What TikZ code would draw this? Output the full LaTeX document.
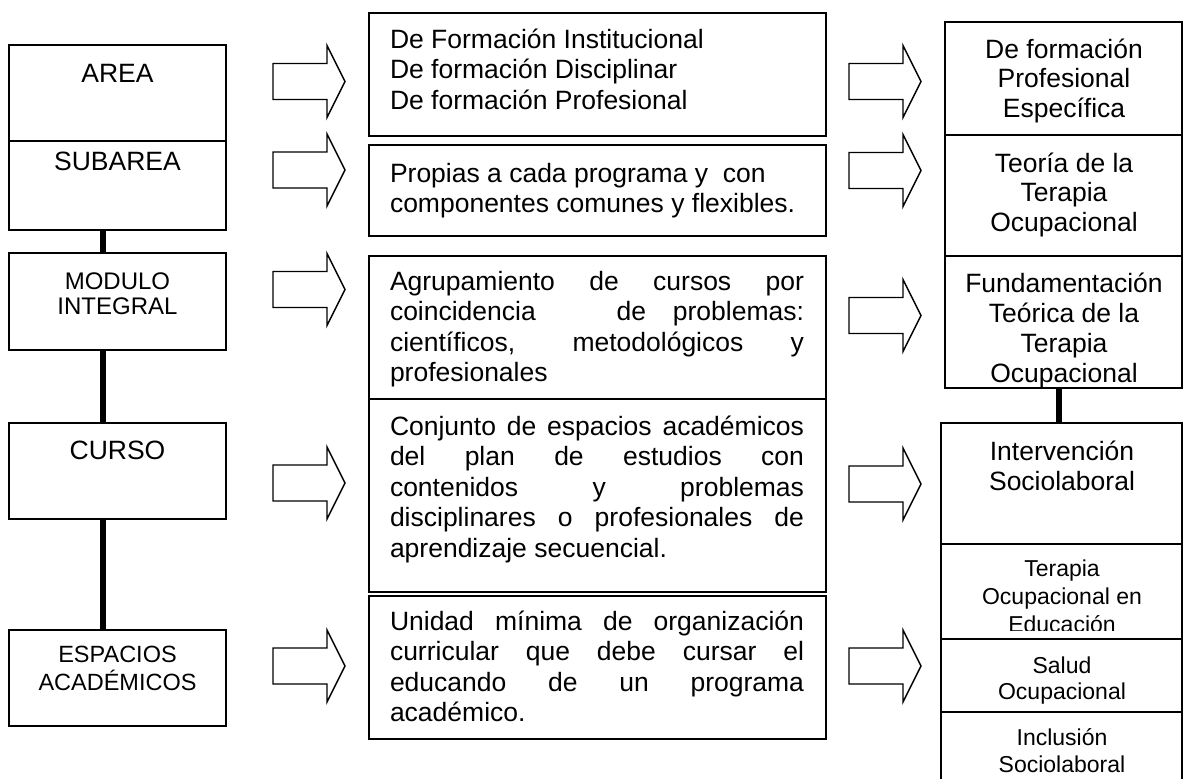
\documentclass[tikz,border=0pt]{standalone}
\usepackage{fontspec}
\setmainfont{Liberation Sans}
\newcommand\st{\rule{0pt}{0.94em}}
\newcommand\jl[1]{\makebox[414pt][s]{#1}}
\newcommand\bx[5]{\node[box, minimum width={#4-#2}, minimum height={#5-#3}] (#1) at (#2,#3) {};}
\begin{document}
\begin{tikzpicture}[x=1pt,y=-1pt,
  box/.style={draw=black, line width=1.7pt, inner sep=0pt, outer sep=0pt, anchor=north west},
  conn/.style={line width=6pt, draw=black},
  arrowline/.style={draw=black, line width=1.4pt, fill=white, line join=miter},
  bigtxt/.style={inner sep=0pt, outer sep=0pt, align=center, anchor=north, font=\fontsize{26.5}{30.5}\selectfont},
  midtxt/.style={inner sep=0pt, outer sep=0pt, align=left, anchor=north west, font=\fontsize{26.5}{30.5}\selectfont},
  blockarrow/.pic={\draw[arrowline] (0,-18) -- (54,-18) -- (54,-36) -- (72,0) -- (54,36) -- (54,18) -- (0,18) -- cycle;}
]
\useasboundingbox (0,0) rectangle (1184,779);
\clip (0,0) rectangle (1184,779);

% left column boxes
\bx{area}{9}{45}{226}{141}
\bx{subarea}{9}{141}{226}{230}
\bx{modulo}{9}{253}{226}{350}
\bx{curso}{9}{423}{226}{519}
\bx{espacios}{9}{630}{226}{726}

% middle column boxes
\bx{m1}{369}{13}{826}{136}
\bx{m2}{369}{145}{826}{236}
\bx{m3}{369}{256}{826}{399}
\bx{m4}{369}{399}{826}{592}
\bx{m5}{369}{596}{826}{739}

% right column boxes
\bx{r1}{945}{22}{1182}{135}
\bx{r2}{945}{135}{1182}{256}
\bx{r3}{945}{256}{1182}{388}
\bx{r4}{941}{423}{1182}{544}
\bx{r5}{941}{544}{1182}{639}
\bx{r6}{941}{639}{1182}{712}
\bx{r7}{941}{712}{1182}{790}

% connectors
\draw[conn] ([xshift=-14.5pt]subarea.south) -- ([xshift=-14.5pt]modulo.north);
\draw[conn] ([xshift=-14.5pt]modulo.south) -- ([xshift=-14.5pt]curso.north);
\draw[conn] ([xshift=-15pt]curso.south) -- ([xshift=-15pt]espacios.north);
\draw[conn] ([xshift=-4.5pt]r3.south) -- ([xshift=-2.5pt]r4.north);

% block arrows
\pic (la1) at (273,81.5) {blockarrow};
\pic (la2) at (273,170) {blockarrow};
\pic (la3) at (273,289.5) {blockarrow};
\pic (la4) at (273,483) {blockarrow};
\pic (la5) at (273,666) {blockarrow};
\pic (ra1) at (849,81.5) {blockarrow};
\pic (ra2) at (849,170.5) {blockarrow};
\pic (ra3) at (849,315.5) {blockarrow};
\pic (ra4) at (849,484) {blockarrow};
\pic (ra5) at (849,666) {blockarrow};

% left texts
\node[bigtxt] (tarea) at (117.5,57.1) {\st AREA};
\node[bigtxt] (tsub) at (117.5,145.1) {\st SUBAREA};
\node[bigtxt, font=\fontsize{24}{25}\selectfont] (tmod) at (117.5,267.4) {\st MODULO\\INTEGRAL};
\node[bigtxt] (tcurso) at (117.5,434.1) {\st CURSO};
\node[bigtxt, font=\fontsize{23.5}{28}\selectfont] (tesp) at (117.5,640.9) {\st ESPACIOS\\ACADÉMICOS};

% middle texts
\node[midtxt] (tm1) at (390,23.1) {\st De Formación Institucional\\De formación Disciplinar\\De formación Profesional};
\node[midtxt] (tm2) at (390,157.1) {\st Propias a cada programa y\ \ con\\componentes comunes y flexibles.};
\node[midtxt] (tm3) at (390,265.1) {\st\jl{Agrupamiento de cursos por}\\\jl{coincidencia\ \ \ de problemas:}\\\jl{científicos, metodológicos y}\\profesionales};
\node[midtxt] (tm4) at (390,410.1) {\st\jl{Conjunto de espacios académicos}\\\jl{del plan de estudios con}\\\jl{contenidos y problemas}\\\jl{disciplinares o profesionales de}\\aprendizaje secuencial.};
\node[midtxt] (tm5) at (390,605.1) {\st\jl{Unidad mínima de organización}\\\jl{curricular que debe cursar el}\\\jl{educando de un programa}\\académico.};

% right texts
\node[bigtxt, font=\fontsize{26.5}{29.5}\selectfont] (tr1) at (1064,33.1) {\st De formación\\Profesional\\Específica};
\node[bigtxt, font=\fontsize{26.5}{29.5}\selectfont] (tr2) at (1064,147.1) {\st Teoría de la\\Terapia\\Ocupacional};
\node[bigtxt, font=\fontsize{26.5}{30}\selectfont] (tr3) at (1064,267.1) {\st Fundamentación\\Teórica de la\\Terapia\\Ocupacional};
\node[bigtxt, font=\fontsize{26.5}{30}\selectfont] (tr4) at (1062,435.1) {\st Intervención\\Sociolaboral};
\begin{scope}
\clip (941,544) rectangle (1182,630);
\node[bigtxt, font=\fontsize{23}{28}\selectfont] (tr5) at (1062,554.4) {\st Terapia\\Ocupacional en\\Educación};
\end{scope}
\node[bigtxt, font=\fontsize{23}{26}\selectfont] (tr6) at (1062,651.4) {\st Salud\\Ocupacional};
\node[bigtxt, font=\fontsize{23}{27}\selectfont] (tr7) at (1062,723.4) {\st Inclusión\\Sociolaboral};
\end{tikzpicture}
\end{document}
